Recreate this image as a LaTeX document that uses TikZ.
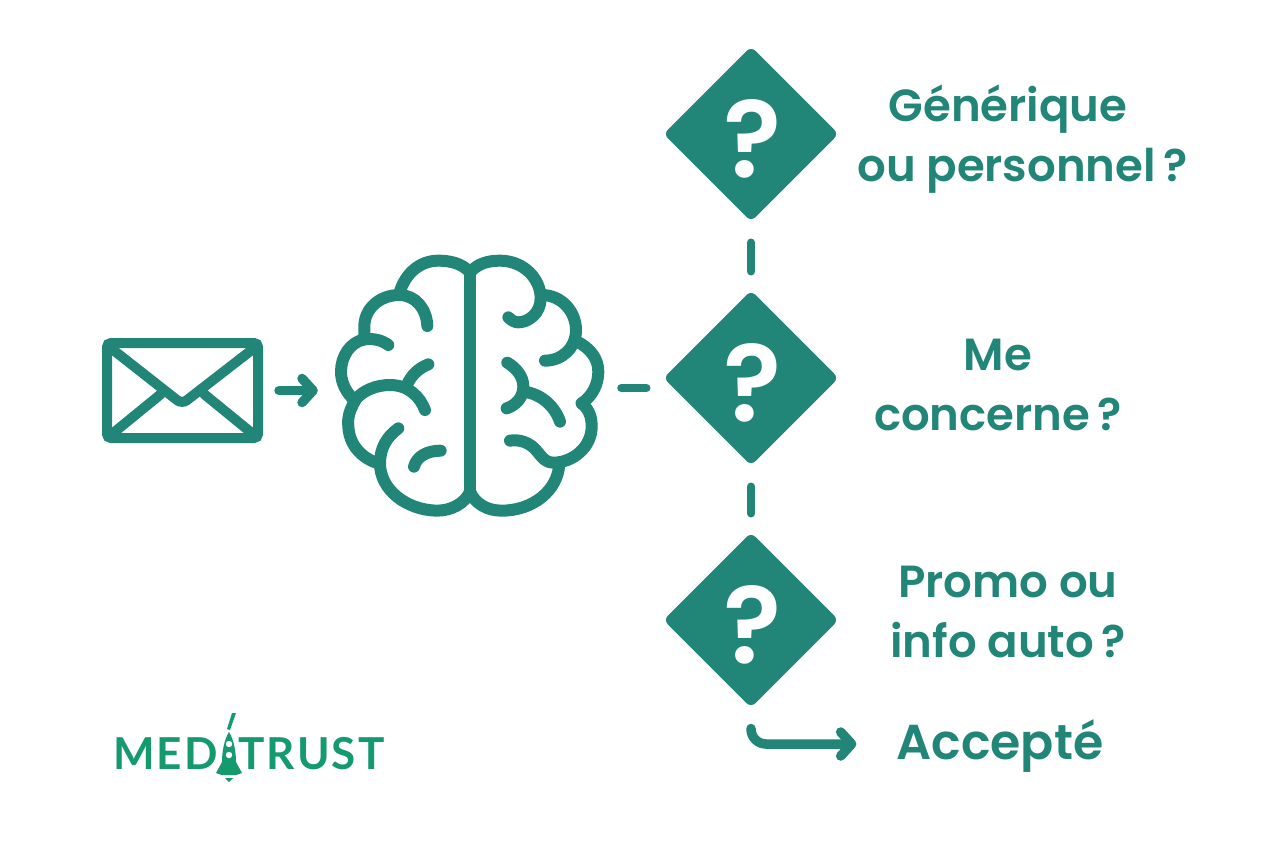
\documentclass[tikz,border=0pt]{standalone}
\usepackage{fontspec}
\setmainfont{Poppins SemiBold}
\newfontfamily\logofont[LetterSpace=5]{Lato Bold}
\usetikzlibrary{shapes.geometric,arrows.meta}
\definecolor{medteal}{HTML}{218578}
\definecolor{medgreen}{HTML}{159A6E}

\begin{document}
\begin{tikzpicture}[x=1pt,y=-1pt,
  question/.style={diamond,aspect=1,fill=medteal,draw=medteal,line width=12pt,line join=round,
    minimum size=163pt,inner sep=0pt,text=white,text height=86pt,text depth=0pt,
    font=\fontsize{108}{108}\selectfont},
  label/.style={text=medteal,align=center,inner sep=0pt,font=\fontsize{45}{60}\selectfont},
  link/.style={draw=medteal,line width=8pt,line cap=round},
  flow/.style={link,line width=9.5pt,-{Straight Barb[length=11pt,width=24pt,round]}},
  brainline/.style={draw=medteal,line width=12pt,line cap=round,line join=round},
  logotext/.style={text=medgreen,inner sep=0pt,font=\logofont\fontsize{44}{44}\selectfont}]

  \useasboundingbox (0,0) rectangle (1274,849);

  \node [draw=medteal,line width=10pt,rounded corners=4pt,minimum width=151pt,minimum height=95pt,
    inner sep=0pt,outer sep=5pt] (mail) at (182.5,390.5) {};
  \begin{scope}[draw=medteal,line width=10pt,line cap=round]
    \draw [rounded corners=6pt] (112,349) -- (182,404) -- (253,349);
    \draw (112,434) -- (161,394);
    \draw (253,434) -- (204,394);
  \end{scope}

  \node [minimum width=267pt,minimum height=262pt,inner sep=0pt] (brain) at (469.5,388) {};
  \begin{scope}[shift={(320,240)},scale=1/3]
    \draw [brainline] (450,95) -- (450,770);
    \draw [brainline] (448,95) .. controls (425,70) and (390,62) .. (355,62)
      .. controls (300,62) and (255,100) .. (238,160);
    \draw [brainline] (322,258) .. controls (320,205) and (285,165) .. (238,165)
      .. controls (180,165) and (133,205) .. (133,260) -- (133,295);
    \draw [brainline] (205,315) .. controls (185,300) and (160,295) .. (135,298)
      .. controls (90,305) and (63,350) .. (63,395) .. controls (63,430) and (80,460) .. (105,482);
    \draw [brainline] (105,480) .. controls (130,450) and (170,435) .. (210,435)
      .. controls (265,435) and (300,470) .. (315,510);
    \draw [brainline] (262,432) .. controls (275,405) and (295,385) .. (325,373);
    \draw [brainline] (105,482) .. controls (90,510) and (82,530) .. (85,560)
      .. controls (88,615) and (125,655) .. (175,670);
    \draw [brainline] (235,565) .. controls (200,590) and (180,625) .. (180,670)
      .. controls (180,750) and (260,810) .. (350,812) .. controls (395,812) and (435,790) .. (450,755);
    \draw [brainline] (282,680) .. controls (290,650) and (320,632) .. (362,632);

    \draw [brainline] (452,95) .. controls (475,70) and (505,62) .. (540,62)
      .. controls (610,62) and (662,115) .. (662,175) .. controls (662,220) and (625,247) .. (595,247)
      .. controls (585,247) and (575,242) .. (565,232);
    \draw [brainline] (665,165) .. controls (725,165) and (768,215) .. (768,270)
      .. controls (768,325) and (725,362) .. (675,362);
    \draw [brainline] (772,305) .. controls (810,325) and (835,355) .. (835,395)
      .. controls (835,435) and (815,470) .. (785,490);
    \draw [brainline] (785,490) .. controls (810,510) and (815,535) .. (815,560)
      .. controls (815,620) and (760,668) .. (700,668) .. controls (670,668) and (660,640) .. (640,622)
      .. controls (620,605) and (595,598) .. (570,602);
    \draw [brainline] (718,670) .. controls (715,750) and (640,812) .. (545,812)
      .. controls (500,812) and (465,790) .. (450,755);
    \draw [brainline] (562,368) .. controls (590,385) and (610,410) .. (610,440)
      .. controls (610,470) and (590,495) .. (560,505);
    \draw [brainline] (612,455) .. controls (665,462) and (705,500) .. (720,545);
  \end{scope}

  \node [question] (generic) at (751,134) {\hspace*{3pt}?};
  \node [question] (concern) at (751,378) {\hspace*{3pt}?};
  \node [question] (promo) at (751,620) {\hspace*{3pt}?};

  \node [label] (genericlabel) at (1022.5,139) {Générique\hspace*{29pt}\\ou personnel\,?};
  \node [label] (concernlabel) at (998,385) {Me\\concerne\,?};
  \node [label] (promolabel) at (1008,612) {Promo ou\\info auto\,?};
  \node [label,font=\fontsize{49}{60}\selectfont] (accepted) at (1000,746) {Accepté};

  \draw [flow,shorten <=16pt,shorten >=18pt] (mail.east) -- (mail.east -| brain.west);
  \draw [link,shorten <=18pt,shorten >=17pt] (brain.east) -- (brain.east -| concern.west);
  \draw [link,shorten <=21pt,shorten >=19pt] (generic.south) -- (concern.north);
  \draw [link,shorten <=21pt,shorten >=19pt] (concern.south) -- (promo.north);
  \draw [flow,rounded corners=15pt,shorten >=40pt] ([yshift=-21pt]promo.south) |- ([yshift=2pt]accepted.west);

  \node [logotext,anchor=east] (logomed) at (218,754) {MED};
  \node [logotext,anchor=west] (logotrust) at (238,754) {TRUST};
  \fill [medgreen] (232,713) -- (236,713) -- (230,730) -- (227,729) -- cycle;
  \fill [medgreen] (229,732) .. controls (224,740) and (222,752) .. (222,762)
    -- (216,773) -- (222,775) -- (236,775) -- (242,773) -- (236,762)
    .. controls (236,752) and (234,740) .. (229,732) -- cycle;
  \fill [white] (229,744) circle (3.2pt) (229,755) circle (3.2pt);
  \fill [medgreen] (225,778) -- (233,778) -- (229,782) -- cycle;
\end{tikzpicture}
\end{document}
